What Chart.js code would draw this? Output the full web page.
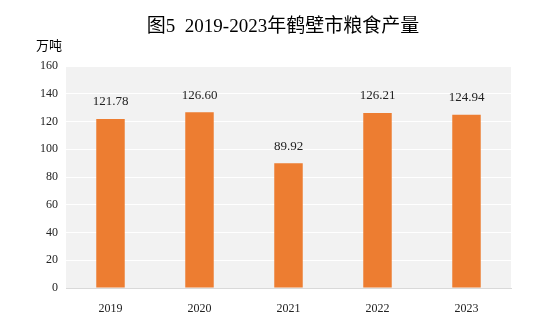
<!DOCTYPE html>
<html>
<head>
<meta charset="utf-8">
<script src="https://cdn.jsdelivr.net/npm/chart.js@4"></script>
<style>
  html, body { margin: 0; padding: 0; background: #fff; }
  #wrap { width: 547px; height: 325px; }
</style>
</head>
<body>
<div id="wrap"><canvas id="grainChart" width="547" height="325"></canvas></div>
<script>
const years = ['2019', '2020', '2021', '2022', '2023'];
const output = [121.78, 126.60, 89.92, 126.21, 124.94];
const yTicks = [0, 20, 40, 60, 80, 100, 120, 140, 160];

const serif = "'Liberation Serif', 'Times New Roman', 'Noto Sans CJK SC', serif";

// grey plot background, title, unit and bar value labels
const decor = {
  id: 'decor',
  beforeDraw(chart) {
    const { ctx, chartArea: a } = chart;
    ctx.save();
    ctx.fillStyle = '#f2f2f2';
    ctx.fillRect(a.left, a.top, a.right - a.left, a.bottom - a.top);
    ctx.restore();
  },
  afterDatasetsDraw(chart) {
    const ctx = chart.ctx;
    ctx.save();
    ctx.fillStyle = '#000';
    ctx.textAlign = 'center';
    ctx.textBaseline = 'middle';
    ctx.font = "19px 'Liberation Serif', 'Noto Sans CJK SC', serif";
    ctx.fillText('图5  2019-2023年鹤壁市粮食产量', 283, 27);
    ctx.font = "13px 'Noto Sans CJK SC', sans-serif";
    ctx.textAlign = 'left';
    ctx.fillText('万吨', 36, 45);
    ctx.font = '13px ' + serif;
    ctx.textAlign = 'center';
    ctx.fillStyle = '#222';
    const meta = chart.getDatasetMeta(0);
    meta.data.forEach((bar, i) => {
      ctx.fillText(output[i].toFixed(2), bar.x, bar.y - 17);
    });
    ctx.restore();
  }
};

new Chart(document.getElementById('grainChart').getContext('2d'), {
  type: 'bar',
  data: {
    labels: years,
    datasets: [{
      data: output,
      backgroundColor: '#ed7d31',
      barPercentage: 0.32,
      categoryPercentage: 1
    }]
  },
  options: {
    responsive: false,
    animation: false,
    layout: { padding: { top: 66, right: 36, bottom: 0, left: 0 } },
    plugins: { legend: { display: false }, tooltip: { enabled: false } },
    scales: {
      x: {
        grid: { display: false },
        border: { display: true, color: '#d9d9d9', width: 1 },
        ticks: { color: '#222', font: { family: serif, size: 12 }, padding: 6 },
        afterFit(scale) { scale.height = 37; }
      },
      y: {
        min: 0,
        max: 160,
        afterBuildTicks(scale) { scale.ticks = yTicks.map(v => ({ value: v })); },
        grid: { color: '#ffffff', lineWidth: 1, drawTicks: false },
        border: { display: false },
        ticks: { color: '#222', font: { family: serif, size: 12 }, padding: 8 },
        afterFit(scale) { scale.width = 66; }
      }
    }
  },
  plugins: [decor]
});
</script>
</body>
</html>
